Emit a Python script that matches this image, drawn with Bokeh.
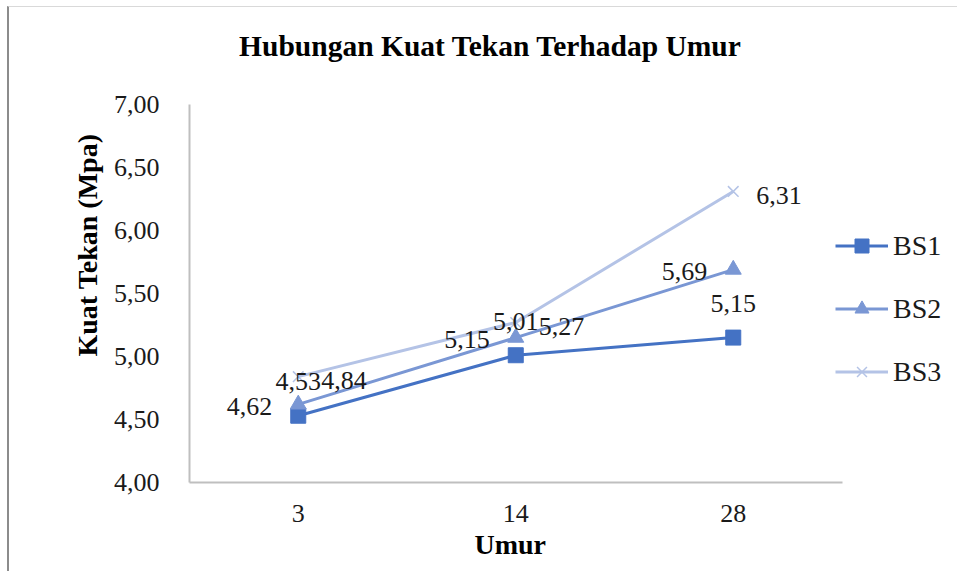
from bokeh.plotting import figure
from bokeh.models import (ColumnDataSource, Range1d, FixedTicker, LabelSet,
                          Label, Legend, LegendItem, Title)
from bokeh.embed import file_html
from bokeh.resources import INLINE

# ---- data ----
umur = ["3", "14", "28"]
bs1 = [4.53, 5.01, 5.15]
bs2 = [4.62, 5.15, 5.69]
bs3 = [4.84, 5.27, 6.31]
series_names = ["BS1", "BS2", "BS3"]
y_ticks = [4.0, 4.5, 5.0, 5.5, 6.0, 6.5, 7.0]

title_text = "Hubungan Kuat Tekan Terhadap Umur"
x_title = "Umur"
y_title = "Kuat Tekan (Mpa)"

# ---- styles / layout ----
FONT = "Liberation Serif"
colors = ["#4472C4", "#7A97D4", "#B4C3E6"]
markers = ["square", "triangle", "x"]
marker_sizes = [15, 16, 15]
line_widths = [3, 3, 3]
# label placement per series: (x_offset, y_offset, align)
label_pos = [(0, 34, "center"), (-26, -2, "right"), (23, -4, "left")]

W, H = 950, 565
BORDER_L, BORDER_B = 180, 90
PX_PER_CAT = 217.5       # horizontal pixels per category
PX_PER_UNIT = 126.0      # vertical pixels per MPa
frame_w = W - BORDER_L
frame_h = H - BORDER_B
ncat = len(umur)
xpos = list(range(ncat))
x_start = -0.5
x_end = x_start + frame_w / PX_PER_CAT
y_start = y_ticks[0]
y_end = y_start + frame_h / PX_PER_UNIT


def fmt(v):
    return f"{v:.2f}".replace(".", ",")


p = figure(width=W, height=H, x_range=Range1d(x_start, x_end),
           y_range=Range1d(y_start, y_end), output_backend="svg", toolbar_location=None,
           min_border_left=BORDER_L, min_border_right=0, min_border_top=0,
           min_border_bottom=BORDER_B)
p.styles = {"margin-left": "7px", "margin-top": "6px",
            "border-left": "2px solid #8C8C8C", "border-top": "1px solid #D9D9D9"}
p.outline_line_color = None
p.xgrid.grid_line_color = None
p.ygrid.grid_line_color = None
p.background_fill_color = "white"
p.border_fill_color = "white"

items = []
for name, vals, col, mk, ms, lw, (xo, yo, al) in zip(
        series_names, [bs1, bs2, bs3], colors, markers, marker_sizes, line_widths, label_pos):
    src = ColumnDataSource(dict(x=xpos, y=vals, t=[fmt(v) for v in vals]))
    r_line = p.line("x", "y", source=src, line_color=col, line_width=lw)
    if mk == "x":
        r_mk = p.scatter("x", "y", source=src, marker=mk, size=ms, line_color=col,
                         line_width=1.5)
    else:
        r_mk = p.scatter("x", "y", source=src, marker=mk, size=ms, fill_color=col,
                         line_color=col)
    p.add_layout(LabelSet(x="x", y="y", text="t", source=src, x_offset=xo, y_offset=yo,
                          text_align=al, text_baseline="middle", text_font=FONT,
                          text_font_size="26px", text_color="#1a1a1a"))
    items.append(LegendItem(label=name, renderers=[r_line, r_mk]))

legend = Legend(items=items, location=(646, 93), orientation="vertical",
                glyph_width=53, glyph_height=35, label_height=35, spacing=28,
                label_standoff=5, padding=0, margin=0,
                label_text_font=FONT, label_text_font_size="28px",
                label_text_color="#1a1a1a", border_line_color=None,
                background_fill_alpha=0)
p.add_layout(legend, "center")

# chart title
p.add_layout(Label(x=301, y=437, x_units="screen", y_units="screen", text=title_text,
                   text_align="center", text_baseline="middle", text_font=FONT,
                   text_font_size="29.5px", text_font_style="bold", text_color="black"))

# axes
for ax in (p.xaxis[0], p.yaxis[0]):
    ax.axis_line_color = "#BFBFBF"
    ax.axis_line_width = 2
    ax.major_tick_line_color = None
    ax.minor_tick_line_color = None
    ax.major_label_text_font = FONT
    ax.major_label_text_font_size = "26px"
    ax.major_label_text_color = "#1a1a1a"
    ax.axis_label_text_font = FONT
    ax.axis_label_text_font_size = "28px"
    ax.axis_label_text_font_style = "bold"
    ax.axis_label_text_color = "black"

p.yaxis[0].ticker = FixedTicker(ticks=y_ticks)
p.yaxis[0].major_label_overrides = {t: fmt(t) for t in y_ticks}
p.yaxis[0].bounds = (y_ticks[0], y_ticks[-1])
p.yaxis[0].major_label_standoff = 24
p.yaxis[0].axis_label = y_title
p.yaxis[0].axis_label_standoff = 8

p.xaxis[0].ticker = FixedTicker(ticks=xpos)
p.xaxis[0].major_label_overrides = {i: u for i, u in zip(xpos, umur)}
p.xaxis[0].bounds = (x_start, x_start + ncat)
p.xaxis[0].major_label_standoff = 16

# x-axis title, centred under the plotted categories
p.add_layout(Title(text=x_title, align="left", offset=285, standoff=4,
                   text_font=FONT, text_font_size="28px", text_font_style="bold",
                   text_color="black"), "below")

open("out.html", "w").write(file_html(p, INLINE))
